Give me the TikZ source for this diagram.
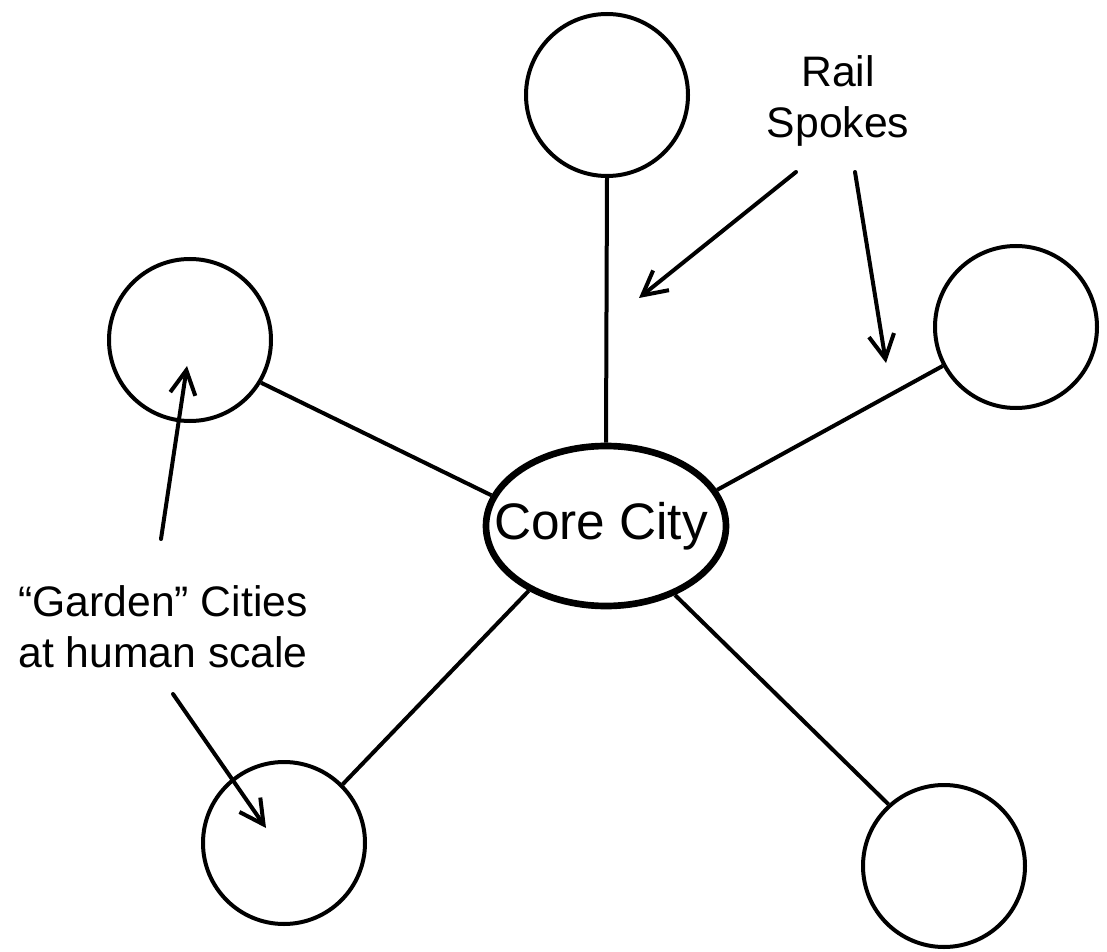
\documentclass[tikz,border=0pt]{standalone}
\usepackage{fontspec}
\setmainfont{Liberation Sans}
\usetikzlibrary{arrows.meta,shapes.geometric}

\begin{document}
\begin{tikzpicture}[x=0.75pt,y=0.75pt,yscale=-1,
  town/.style={draw,circle,line width=3pt,minimum size=121.5pt,inner sep=0pt},
  corecity/.style={draw,ellipse,line width=5pt,minimum width=180pt,minimum height=120pt,inner sep=0pt},
  spoke/.style={line width=3pt},
  pointer/.style={line width=3pt,line cap=round,line join=round,-{Straight Barb[length=18pt,width=19pt]}},
  lbl/.style={align=center,inner sep=0pt,font=\fontsize{32}{38.3}\selectfont}]
\useasboundingbox (0,0) rectangle (1107,952);

%Ellipse
\node [corecity] (core) at (606,526) {};

%Circles
\node [town] (north) at (607,95) {};
\node [town] (west) at (190,340) {};
\node [town] (east) at (1016,327) {};
\node [town] (southwest) at (284,843) {};
\node [town] (southeast) at (944,866) {};

%Straight Lines
\draw [spoke] (core.north) -- (north.south);
\draw [spoke] (core.165) -- (west.-31);
\draw [spoke] (core.18) -- (east.-152);
\draw [spoke] (core.220) -- (southwest.45);
\draw [spoke] (core.-45) -- (southeast.132);

% Text Node
\node [font=\fontsize{38.5}{46}\selectfont,inner sep=0pt] (corelabel) at (601,526) {Core City};
% Text Node
\node [lbl] (raillabel) at (838,101) {Rail\\Spokes};
% Text Node
\node [lbl] (gardenlabel) at (163,627) {“Garden” Cities\\at human scale};

%Pointers
\coordinate (railA) at (796,172);
\coordinate (railAtip) at (639,298);
\coordinate (railB) at (855,172);
\coordinate (railBtip) at (886,363);
\coordinate (gardenA) at (161,539);
\coordinate (gardenAtip) at (187,366);
\coordinate (gardenB) at (173,694);
\coordinate (gardenBtip) at (266,828);
\draw [pointer] (railA) -- (railAtip);
\draw [pointer] (railB) -- (railBtip);
\draw [pointer] (gardenA) -- (gardenAtip);
\draw [pointer] (gardenB) -- (gardenBtip);

\end{tikzpicture}
\end{document}
